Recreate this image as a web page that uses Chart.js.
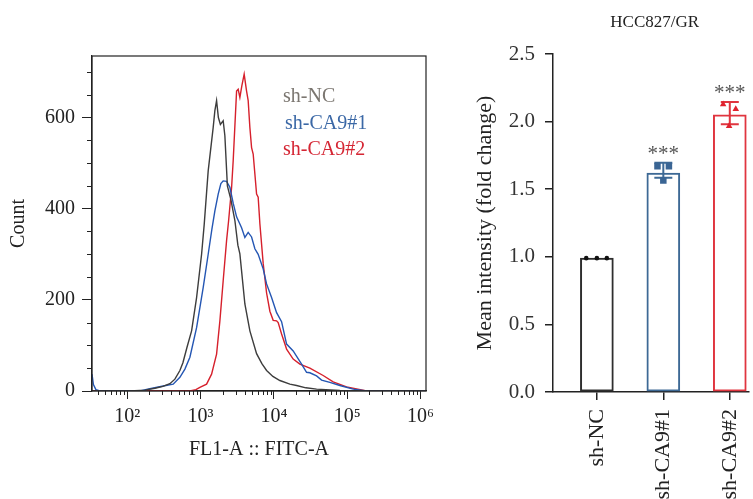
<!DOCTYPE html>
<html lang="en">
  <head>
    <meta charset="UTF-8">
    <title>FITC histogram and mean intensity</title>
    <script src="https://cdn.jsdelivr.net/npm/chart.js"></script>
    <style>
      html, body {
        margin: 0;
        padding: 0;
        background: #fff;
      }

      .wrap {
        position: relative;
        width: 753px;
        height: 499px;
        overflow: hidden;
      }

      #histChart {
        position: absolute;
        left: 0;
        top: 0;
      }

      #barChart {
        position: absolute;
        left: 440px;
        top: 0;
      }
    </style>
  </head>
  <body>
    <div class="wrap">
      <canvas id="histChart" width="440" height="499"></canvas>
      <canvas id="barChart" width="313" height="499"></canvas>
    </div>
    <script>
      // ---- histogram data (FL1-A intensity vs count) ----
      const seriesNames = ['sh-NC', 'sh-CA9#1', 'sh-CA9#2'];

      const ncX = [33, 108, 174, 238, 306, 381, 446, 522, 574, 650, 754, 882, 1032, 1120, 1270, 1485, 1567, 1653, 1749, 1863,
        2034, 2145, 2321, 2591, 2938, 3227, 3437, 4021, 4705, 5808, 6860, 7952, 9691, 12074, 16533, 20405, 27330, 38233, 79510, 149060, 1190000];
      const ncCount = [0, 0, 2, 6, 10, 16, 26, 45, 62, 95, 132, 205, 300, 365, 483, 578, 615, 637, 600, 585,
        593, 560, 450, 420, 374, 320, 301, 191, 132, 82, 60, 45, 32, 23, 15, 12, 7, 4, 1, 0, 0];

      const ca91X = [33, 34.5, 37.3, 42.3, 149, 203, 309, 423, 522, 611, 715, 882, 1085, 1270, 1427, 1567, 1739, 1892, 2034, 2263,
        2510, 2785, 3098, 3625, 4021, 4461, 4963, 5506, 6107, 7145, 7952, 9303, 10885, 12738, 14904, 18338, 23870, 27935, 30978, 38233,
        44760, 58070, 79510, 120730, 183960, 1190000];
      const ca91Count = [37, 14, 3, 0, 0, 5, 11, 15, 30, 48, 74, 139, 227, 300, 355, 395, 432, 455, 461, 460,
        447, 412, 382, 358, 337, 348, 338, 312, 300, 268, 235, 205, 172, 152, 103, 88, 59, 41, 40, 33,
        24, 19, 12, 4, 0, 0];

      const ca92X = [33, 714, 863, 978, 1207, 1413, 1653, 1834, 2034, 2263, 2410, 2648, 2785, 3098, 3258, 3437, 3659, 3933, 4241, 4461,
        4705, 4963, 5220, 5506, 5808, 6107, 6442, 7145, 7952, 8820, 9783, 10885, 11447, 12738, 14904, 18338, 22627, 30978, 47050, 64420,
        98130, 183960, 1190000];
      const ca92Count = [0, 0, 3, 8, 15, 37, 81, 154, 242, 330, 373, 446, 505, 658, 662, 644, 670, 695, 658, 637,
        578, 534, 520, 476, 432, 425, 367, 280, 215, 175, 155, 154, 150, 125, 92, 70, 59, 50, 34, 20,
        9, 0, 0];

      const decadeTicks = [100, 1000, 10000, 100000, 1000000];
      const countTicks = [0, 200, 400, 600];

      // ---- bar panel data (mean intensity, fold change) ----
      const groups = ['sh-NC', 'sh-CA9#1', 'sh-CA9#2'];
      const meanFold = [0.99, 1.62, 2.05];
      const errLow = [0.99, 1.585, 1.98];
      const errHigh = [0.99, 1.696, 2.145];
      const repNC = [0.99, 0.99, 0.99];
      const repCA91 = [1.669, 1.564, 1.669];
      const repCA92 = [2.128, 1.967, 2.093];
      const sigMarks = ['', '***', '***'];
      const foldTicks = [0, 0.5, 1, 1.5, 2, 2.5];

      // styling
      const FONT = "'Liberation Serif', 'DejaVu Serif', serif";
      const INK = '#222';
      const lineColors = ['#3d3d3d', '#2456b3', '#d6202c'];
      const legendColors = ['#7b7670', '#3b68a6', '#d52634'];
      const barColors = ['#2e2e2e', '#3d6995', '#e0353f'];
      const dotColors = ['#111', '#3a6594', '#e0222e'];
      const jitter = [[-0.16, 0, 0.15], [-0.088, 0, 0.084], [-0.1, -0.01, 0.09]];
      const supDigits = { 2: '\u00b2', 3: '\u00b3', 4: '\u2074', 5: '\u2075', 6: '\u2076' };

      Chart.defaults.font.family = FONT;
      Chart.defaults.color = INK;

      function toPoints(xs, ys) {
        return xs.map((x, i) => ({ x: x, y: ys[i] }));
      }

      // minor ticks, box frame and in-plot legend for the histogram
      const histDecor = {
        id: 'histDecor',
        afterDraw(chart) {
          const { ctx, chartArea: a, scales: { x, y } } = chart;
          ctx.save();
          ctx.strokeStyle = INK;
          ctx.lineWidth = 1;
          ctx.beginPath();
          for (let e = 1; e < 7; e++) {
            for (let m = 2; m < 10; m++) {
              const v = m * Math.pow(10, e);
              if (v < x.min || v > x.max) continue;
              const px = Math.round(x.getPixelForValue(v)) + 0.5;
              ctx.moveTo(px, a.bottom);
              ctx.lineTo(px, a.bottom + 4);
            }
          }
          for (let v = 50; v <= 700; v += 50) {
            if (v % 200 === 0) continue;
            const py = Math.round(y.getPixelForValue(v)) + 0.5;
            ctx.moveTo(a.left, py);
            ctx.lineTo(a.left - 5, py);
          }
          ctx.stroke();
          ctx.lineWidth = 1.2;
          ctx.strokeRect(a.left, a.top, a.right - a.left, a.bottom - a.top);
          // legend text
          ctx.font = '20px ' + FONT;
          ctx.textAlign = 'left';
          ctx.textBaseline = 'middle';
          const lx = a.left + 191;
          seriesNames.forEach((name, i) => {
            ctx.fillStyle = legendColors[i];
            ctx.fillText(name, lx + (i === 1 ? 2 : 0), a.top + 41 + i * 26.5);
          });
          ctx.restore();
        }
      };

      new Chart(document.getElementById('histChart'), {
        type: 'line',
        data: {
          datasets: [
            { label: seriesNames[0], data: toPoints(ncX, ncCount), borderColor: lineColors[0] },
            { label: seriesNames[1], data: toPoints(ca91X, ca91Count), borderColor: lineColors[1] },
            { label: seriesNames[2], data: toPoints(ca92X, ca92Count), borderColor: lineColors[2] }
          ]
        },
        options: {
          responsive: false,
          animation: false,
          layout: { padding: { left: 0, top: 56, right: 14, bottom: 0 } },
          elements: {
            point: { radius: 0 },
            line: { borderWidth: 1.4, tension: 0 }
          },
          plugins: {
            legend: { display: false },
            tooltip: { enabled: false }
          },
          scales: {
            x: {
              type: 'logarithmic',
              min: 33,
              max: 1190000,
              afterBuildTicks: s => { s.ticks = decadeTicks.map(v => ({ value: v })); },
              afterFit: s => { s.height = 108; s.paddingLeft = 0; s.paddingRight = 0; },
              ticks: {
                autoSkip: false,
                maxRotation: 0,
                padding: 6,
                color: INK,
                font: { size: 20 },
                callback: v => '10' + supDigits[Math.round(Math.log10(v))]
              },
              grid: { drawOnChartArea: false, tickLength: 8, color: INK },
              border: { color: INK, width: 1.2 },
              title: {
                display: true,
                text: 'FL1-A :: FITC-A',
                color: INK,
                font: { size: 20 },
                padding: { top: 0, bottom: 37 }
              }
            },
            y: {
              min: 0,
              max: 735,
              afterBuildTicks: s => { s.ticks = countTicks.map(v => ({ value: v })); },
              afterFit: s => { s.width = 92; s.paddingTop = 0; s.paddingBottom = 0; },
              ticks: { padding: 7, color: INK, font: { size: 20 } },
              grid: { drawOnChartArea: false, tickLength: 10, color: INK },
              border: { color: INK, width: 1.2 },
              title: {
                display: true,
                text: 'Count',
                color: INK,
                font: { size: 20 },
                padding: { top: 7, bottom: 0 }
              }
            }
          }
        },
        plugins: [histDecor]
      });

      // error bars, significance stars and panel title for the bar chart
      const barDecor = {
        id: 'barDecor',
        afterDatasetDraw(chart, args) {
          if (args.index !== 0) return;
          const { ctx, scales: { x, y } } = chart;
          ctx.save();
          ctx.lineWidth = 2;
          groups.forEach((g, i) => {
            if (errHigh[i] === errLow[i]) return;
            const cx = x.getPixelForValue(i);
            const top = y.getPixelForValue(errHigh[i]);
            const bot = y.getPixelForValue(errLow[i]);
            ctx.strokeStyle = barColors[i];
            ctx.beginPath();
            ctx.moveTo(cx, top);
            ctx.lineTo(cx, bot);
            ctx.moveTo(cx - 9, top);
            ctx.lineTo(cx + 9, top);
            ctx.moveTo(cx - 9, bot);
            ctx.lineTo(cx + 9, bot);
            ctx.stroke();
          });
          ctx.restore();
        },
        afterDraw(chart) {
          const { ctx, chartArea: a, scales: { x, y } } = chart;
          ctx.save();
          ctx.fillStyle = '#555';
          ctx.font = '21px ' + FONT;
          ctx.textAlign = 'center';
          ctx.textBaseline = 'alphabetic';
          groups.forEach((g, i) => {
            if (!sigMarks[i]) return;
            ctx.fillText(sigMarks[i], x.getPixelForValue(i), y.getPixelForValue(errHigh[i]) - 3);
          });
          ctx.fillStyle = INK;
          ctx.font = '17px ' + FONT;
          ctx.textBaseline = 'middle';
          ctx.fillText('HCC827/GR', (a.left + a.right) / 2 + 4, 23);
          ctx.restore();
        }
      };

      const repSets = [repNC, repCA91, repCA92];
      const repStyles = ['circle', 'rect', 'triangle'];
      const repRadius = [2.3, 4.6, 3.8];

      new Chart(document.getElementById('barChart'), {
        type: 'bar',
        data: {
          datasets: [
            {
              data: groups.map((g, i) => ({ x: i, y: meanFold[i] })),
              backgroundColor: '#fff',
              borderColor: barColors,
              borderWidth: 2,
              borderSkipped: false,
              barThickness: 33,
              order: 2
            }
          ].concat(repSets.map((reps, i) => ({
            type: 'scatter',
            data: reps.map((v, k) => ({ x: i + jitter[i][k], y: v })),
            pointStyle: repStyles[i],
            pointRadius: repRadius[i],
            backgroundColor: dotColors[i],
            borderColor: dotColors[i],
            borderWidth: 0,
            order: 1
          })))
        },
        options: {
          responsive: false,
          animation: false,
          layout: { padding: { left: 0, top: 54, right: 0, bottom: 0 } },
          plugins: {
            legend: { display: false },
            tooltip: { enabled: false }
          },
          scales: {
            x: {
              type: 'linear',
              offset: false,
              min: -0.66,
              max: 2.28,
              afterBuildTicks: s => { s.ticks = groups.map((g, i) => ({ value: i })); },
              afterFit: s => { s.height = 107; s.paddingLeft = 0; s.paddingRight = 0; },
              ticks: {
                autoSkip: false,
                minRotation: 90,
                maxRotation: 90,
                padding: 9,
                color: INK,
                font: { size: 22 },
                callback: v => groups[v]
              },
              grid: { offset: false, drawOnChartArea: false, tickLength: 8, color: INK, lineWidth: 1.5 },
              border: { color: INK, width: 1.5 }
            },
            y: {
              min: 0,
              max: 2.5,
              afterBuildTicks: s => { s.ticks = foldTicks.map(v => ({ value: v })); },
              afterFit: s => { s.width = 113; s.paddingTop = 0; s.paddingBottom = 0; },
              ticks: {
                padding: 10,
                color: '#333',
                font: { size: 21 },
                callback: v => v.toFixed(1)
              },
              grid: { drawOnChartArea: false, tickLength: 8, color: INK, lineWidth: 1.5 },
              border: { color: INK, width: 1.5 },
              title: {
                display: true,
                text: 'Mean intensity (fold change)',
                color: INK,
                font: { size: 22 },
                padding: { top: 32, bottom: 0 }
              }
            }
          }
        },
        plugins: [barDecor]
      });
    </script>
  </body>
</html>
